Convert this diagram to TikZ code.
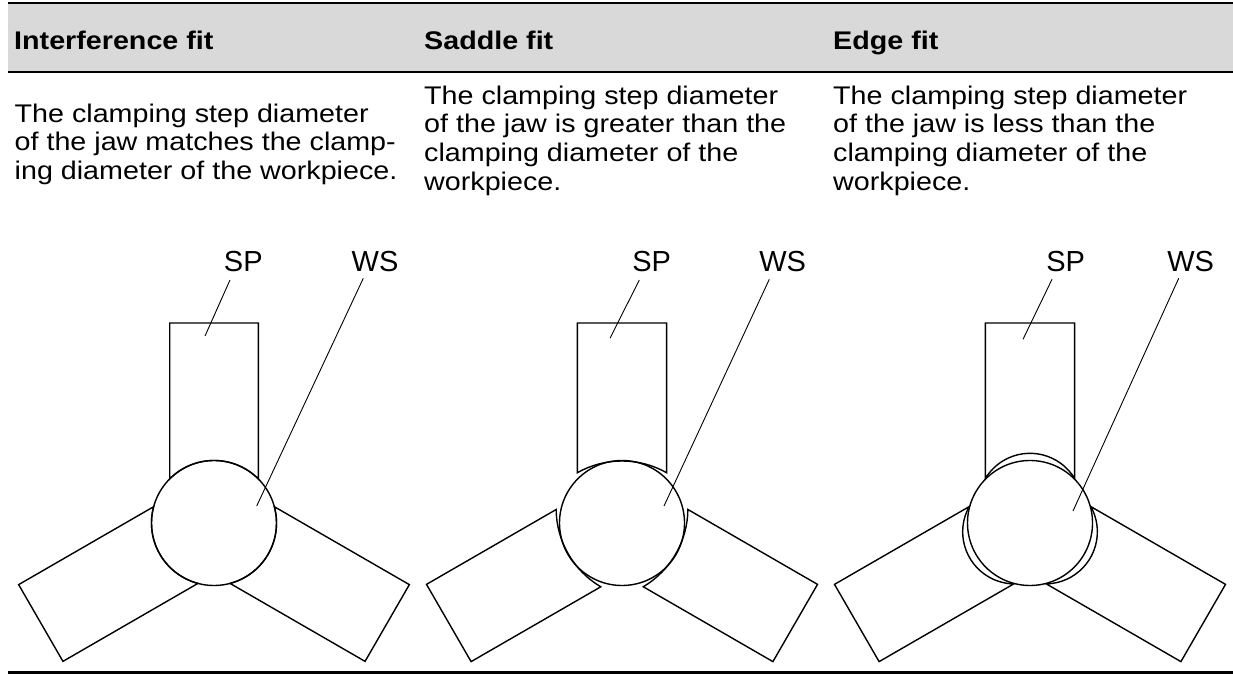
\documentclass[tikz,border=0pt]{standalone}
\usepackage{fontspec}
\setmainfont{Liberation Sans}[FakeStretch=1.125]
\newfontfamily\lblfont{Liberation Sans}
\definecolor{hdrgrey}{RGB}{217,217,217}
\tikzset{
  jawline/.style={line width=1.4pt, line join=miter},
  leader/.style={line width=0.9pt},
  lbl/.style={font=\lblfont\fontsize{29}{33}\selectfont, inner sep=0pt, anchor=base},
  hdr/.style={font=\bfseries\fontsize{25.5}{28.6}\selectfont, inner sep=0pt, anchor=base west},
  bodytext/.style={font=\fontsize{25.5}{28.6}\selectfont, align=left, inner sep=0pt, anchor=north west},
  wpiece/.style={circle, draw, jawline, minimum size=125pt, inner sep=0pt}
}
\begin{document}
\begin{tikzpicture}[x=1pt,y=1pt]
\useasboundingbox (0,0) rectangle (1233,674);
% table header
\fill[hdrgrey] (8,602.7) rectangle (1233,670);
\draw[line width=2.5pt] (8,671.2) -- (1233,671.2);
\draw[line width=2.3pt] (8,601.7) -- (1233,601.7);
\draw[line width=3pt] (8,1.5) -- (1233,1.5);
\node[hdr] (h1) at (14,624.5) {Interference fit};
\node[hdr] (h2) at (424,624.5) {Saddle fit};
\node[hdr] (h3) at (833,624.5) {Edge fit};
\node[bodytext] (t1) at (14.5,570.6) {The clamping step diameter\\of the jaw matches the clamp-\\ing diameter of the workpiece.};
\node[bodytext] (t2) at (424,588.3) {The clamping step diameter\\of the jaw is greater than the\\clamping diameter of the\\workpiece.};
\node[bodytext] (t3) at (833,588.3) {The clamping step diameter\\of the jaw is less than the\\clamping diameter of the\\workpiece.};
% panel 1: interference fit
\begin{scope}[shift={(214,151)}]
  \foreach \a in {0,120,240}
    \draw[jawline, rotate=\a] (-44.3,200) -- (44.3,200) -- (44.3,44.1)
      arc[start angle=44.87, end angle=135.13, radius=62.5pt] -- cycle;
\end{scope}
\node[wpiece] (ws1) at (214,151) {};
% panel 2: saddle fit
\begin{scope}[shift={(622,151)}]
  \foreach \a in {0,120,240}
    \draw[jawline, rotate=\a] (-44.6,200) -- (44.6,200) -- (44.6,50.3)
      arc[start angle=60.6, end angle=119.4, radius=90.9pt] -- cycle;
\end{scope}
\node[wpiece] (ws2) at (622,151) {};
% panel 3: edge fit
\begin{scope}[shift={(1030,151)}]
  \foreach \a in {0,120,240}
    \draw[jawline, rotate=\a] (-44.6,200) -- (44.6,200) -- (44.6,44.5)
      arc[start angle=31.1, end angle=148.9, radius=52.1pt] -- cycle;
\end{scope}
\node[wpiece] (ws3) at (1030,151) {};
% labels
\node[lbl] (sp1) at (243.3,402.3) {SP};
\node[lbl] (wl1) at (375,402.3) {WS};
\node[lbl] (sp2) at (651.7,402.3) {SP};
\node[lbl] (wl2) at (782.7,402.3) {WS};
\node[lbl] (sp3) at (1065.7,402.3) {SP};
\node[lbl] (wl3) at (1190.7,402.3) {WS};
% leader lines
\coordinate (sp1a) at (230,394);    \coordinate (sp1b) at (205,338);
\coordinate (wl1a) at (363.3,395.7); \coordinate (wl1b) at (256.7,168);
\coordinate (sp2a) at (639.3,394);  \coordinate (sp2b) at (610,335.7);
\coordinate (wl2a) at (769.3,394.7); \coordinate (wl2b) at (664,168);
\coordinate (sp3a) at (1052,394.7); \coordinate (sp3b) at (1023,334.7);
\coordinate (wl3a) at (1178.7,395.7); \coordinate (wl3b) at (1073,163);
\draw[leader] (sp1a) -- (sp1b);
\draw[leader] (wl1a) -- (wl1b);
\draw[leader] (sp2a) -- (sp2b);
\draw[leader] (wl2a) -- (wl2b);
\draw[leader] (sp3a) -- (sp3b);
\draw[leader] (wl3a) -- (wl3b);
\end{tikzpicture}
\end{document}
